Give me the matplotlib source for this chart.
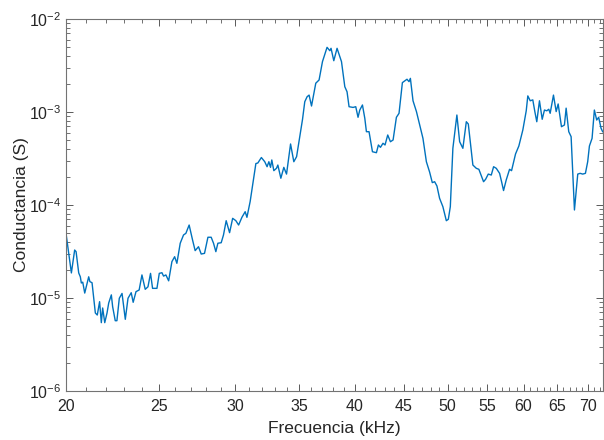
import numpy as np
import matplotlib
matplotlib.use('Agg')
from matplotlib import pyplot as plt
from matplotlib.ticker import LogLocator, NullFormatter

# frequency (kHz) and conductance (S)
freq_khz = [20.00, 20.13, 20.26, 20.42, 20.49, 20.62, 20.70, 20.75, 20.82, 20.92,
            21.12, 21.18, 21.29, 21.46, 21.56, 21.68, 21.77, 21.84, 21.95, 22.07,
            22.16, 22.30, 22.37, 22.51, 22.60, 22.73, 22.88, 23.06, 23.21, 23.39,
            23.50, 23.66, 23.84, 24.00, 24.19, 24.35, 24.50, 24.62, 24.88, 25.02,
            25.18, 25.28, 25.42, 25.59, 25.79, 25.96, 26.10, 26.31, 26.52, 26.67,
            26.88, 27.10, 27.27, 27.49, 27.67, 27.89, 28.12, 28.34, 28.50, 28.66,
            28.80, 29.03, 29.19, 29.38, 29.62, 29.84, 30.07, 30.27, 30.51, 30.75,
            30.88, 31.12, 31.36, 31.55, 31.70, 31.97, 32.23, 32.41, 32.55, 32.68,
            32.78, 32.94, 33.15, 33.26, 33.50, 33.74, 33.96, 34.29, 34.56, 34.79,
            35.06, 35.29, 35.48, 35.68, 35.85, 36.06, 36.43, 36.72, 37.02, 37.43,
            37.68, 37.79, 38.04, 38.34, 38.75, 39.06, 39.27, 39.46, 39.84, 40.10,
            40.32, 40.49, 40.75, 40.98, 41.14, 41.40, 41.74, 42.14, 42.34, 42.55,
            42.81, 43.02, 43.30, 43.58, 43.86, 44.21, 44.49, 44.85, 45.13, 45.35,
            45.57, 45.72, 46.01, 46.39, 46.75, 47.12, 47.51, 47.88, 48.19, 48.46,
            48.73, 49.04, 49.43, 49.84, 50.08, 50.32, 50.63, 51.12, 51.46, 51.86,
            52.29, 52.54, 53.12, 53.56, 53.89, 54.50, 54.77, 55.12, 55.52, 55.83,
            56.19, 56.64, 56.91, 57.18, 57.55, 58.01, 58.29, 58.85, 59.32, 59.89,
            60.38, 60.61, 60.96, 61.34, 61.64, 61.93, 62.33, 62.74, 63.08, 63.43,
            63.74, 63.95, 64.46, 64.88, 65.19, 65.71, 66.18, 66.45, 66.87, 67.25,
            67.79, 68.33, 68.72, 69.15, 69.60, 69.98, 70.27, 70.72, 71.11, 71.51,
            71.85, 72.26, 72.54]

conductance = [4.96e-5, 3.05e-5, 1.86e-5, 3.28e-5, 3.15e-5, 1.86e-5, 1.69e-5, 1.45e-5, 1.48e-5, 1.13e-5,
               1.69e-5, 1.50e-5, 1.46e-5, 6.90e-6, 6.56e-6, 9.13e-6, 5.43e-6, 7.81e-6, 5.43e-6, 6.90e-6,
               8.84e-6, 1.08e-5, 8.06e-6, 5.70e-6, 5.70e-6, 9.93e-6, 1.12e-5, 5.90e-6, 9.93e-6, 1.14e-5,
               8.99e-6, 1.17e-5, 1.22e-5, 1.77e-5, 1.24e-5, 1.32e-5, 1.84e-5, 1.27e-5, 1.27e-5, 1.84e-5,
               1.87e-5, 1.72e-5, 1.77e-5, 1.53e-5, 2.46e-5, 2.78e-5, 2.36e-5, 3.88e-5, 4.76e-5, 4.96e-5,
               6.09e-5, 4.21e-5, 3.23e-5, 3.56e-5, 2.97e-5, 3.02e-5, 4.50e-5, 4.50e-5, 3.88e-5, 3.15e-5,
               3.88e-5, 3.93e-5, 4.76e-5, 6.78e-5, 5.04e-5, 7.19e-5, 6.78e-5, 6.09e-5, 7.37e-5, 8.47e-5,
               7.37e-5, 1.09e-4, 1.86e-4, 2.79e-4, 2.83e-4, 3.24e-4, 2.92e-4, 2.58e-4, 2.92e-4, 2.54e-4,
               3.05e-4, 2.34e-4, 2.48e-4, 2.69e-4, 1.94e-4, 2.54e-4, 2.15e-4, 4.53e-4, 2.92e-4, 3.31e-4,
               5.43e-4, 8.35e-4, 1.29e-3, 1.46e-3, 1.52e-3, 1.16e-3, 2.04e-3, 2.21e-3, 3.48e-3, 4.96e-3,
               4.56e-3, 4.84e-3, 3.56e-3, 4.84e-3, 3.48e-3, 1.87e-3, 1.65e-3, 1.14e-3, 1.12e-3, 1.14e-3,
               8.77e-4, 1.05e-3, 1.19e-3, 8.56e-4, 6.14e-4, 6.14e-4, 3.74e-4, 3.65e-4, 4.42e-4, 4.17e-4,
               4.61e-4, 4.42e-4, 5.66e-4, 4.79e-4, 5.00e-4, 8.77e-4, 9.68e-4, 2.07e-3, 2.17e-3, 2.25e-3,
               2.12e-3, 2.30e-3, 1.32e-3, 1.01e-3, 7.25e-4, 5.21e-4, 2.92e-4, 2.26e-4, 1.74e-4, 1.78e-4,
               1.60e-4, 1.18e-4, 9.59e-5, 6.78e-5, 7.02e-5, 9.59e-5, 4.07e-4, 9.28e-4, 4.79e-4, 4.07e-4,
               7.86e-4, 7.43e-4, 2.69e-4, 2.48e-4, 2.42e-4, 1.78e-4, 1.89e-4, 2.15e-4, 2.10e-4, 2.58e-4,
               2.48e-4, 2.19e-4, 1.78e-4, 1.43e-4, 1.86e-4, 2.42e-4, 2.34e-4, 3.54e-4, 4.31e-4, 6.41e-4,
               1.03e-3, 1.49e-3, 1.32e-3, 1.35e-3, 1.01e-3, 7.86e-4, 1.32e-3, 8.35e-4, 1.05e-3, 1.03e-3,
               1.07e-3, 9.68e-4, 1.52e-3, 1.01e-3, 1.22e-3, 6.95e-4, 7.25e-4, 1.10e-3, 6.14e-4, 5.43e-4,
               8.84e-5, 2.15e-4, 2.19e-4, 2.15e-4, 2.19e-4, 2.92e-4, 4.31e-4, 5.21e-4, 1.05e-3, 8.20e-4,
               8.77e-4, 6.68e-4, 6.14e-4]

xticks = [20, 25, 30, 35, 40, 45, 50, 55, 60, 65, 70]
xminor = [f for f in range(21, 73) if f % 5 != 0]

plt.rcParams['font.family'] = ['Liberation Sans', 'DejaVu Sans']

fig = plt.figure(figsize=(6.04, 4.40), dpi=100)
ax = fig.add_axes([66/604, 49/440, 537/604, 372/440])

ax.plot(freq_khz, conductance, color='#0072BD', lw=1.0)

ax.set_xscale('log')
ax.set_yscale('log')
ax.set_xlim(20, 72.6)
ax.set_ylim(1e-6, 1e-2)

ax.set_xticks(xticks, labels=[str(t) for t in xticks])
ax.set_xticks(xminor, minor=True)
ax.xaxis.set_minor_formatter(NullFormatter())
ax.yaxis.set_major_locator(LogLocator(base=10))
ax.yaxis.set_minor_locator(LogLocator(base=10, subs=np.arange(2, 10)))
ax.yaxis.set_minor_formatter(NullFormatter())

ax.tick_params(which='both', direction='in', top=True, right=True,
               color='0.35', labelcolor='#262626', labelsize=11.5)
ax.tick_params(which='major', length=5, width=0.7)
ax.tick_params(which='minor', length=3, width=0.6)
ax.tick_params(axis='x', pad=6)
for s in ax.spines.values():
    s.set_color('0.45')
    s.set_linewidth(0.8)

ax.set_xlabel('Frecuencia (kHz)', fontsize=12.5, color='#262626', labelpad=5)
ax.set_ylabel('Conductancia (S)', fontsize=12.5, color='#262626', labelpad=0)

fig.savefig('out.png', dpi=100)
